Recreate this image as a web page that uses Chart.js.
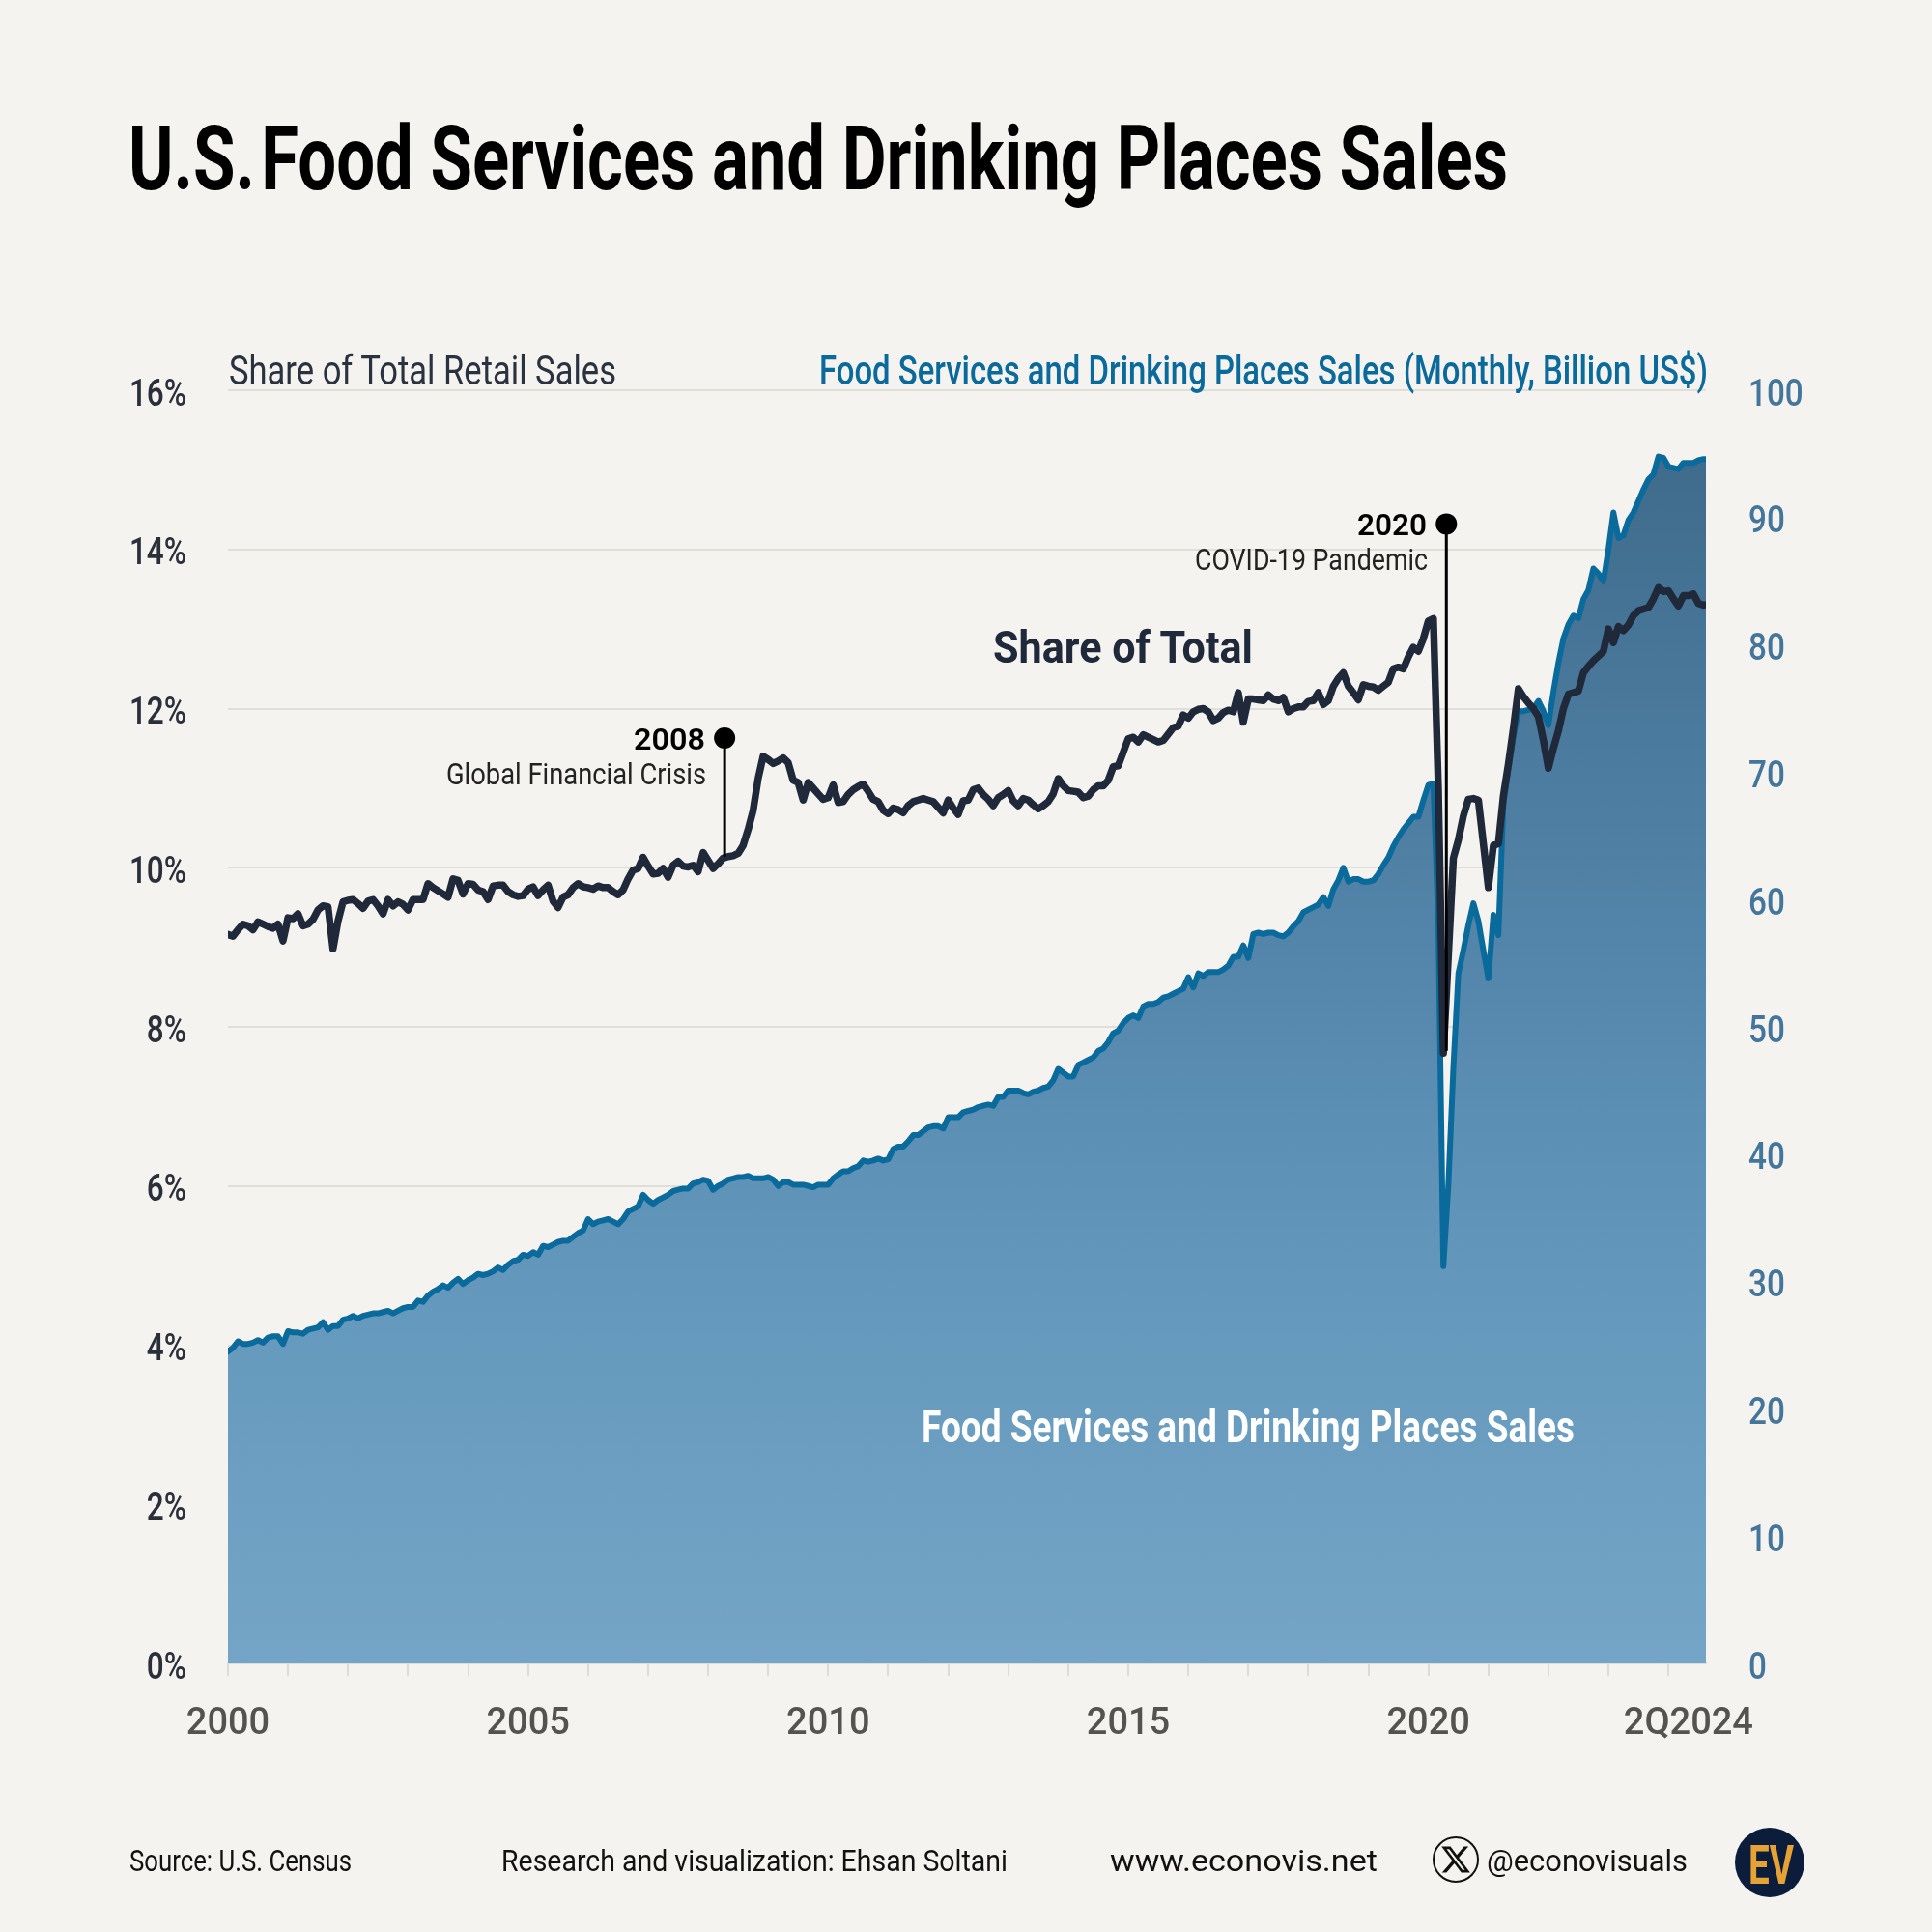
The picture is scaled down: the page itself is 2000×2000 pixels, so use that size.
<!DOCTYPE html>
<html><head><meta charset="utf-8">
<style>
html,body{margin:0;padding:0;background:#f4f3ef;width:2000px;height:2000px;overflow:hidden}
#wrap{position:relative;width:2000px;height:2000px}
canvas{position:absolute;left:0;top:0}
.t{position:absolute;white-space:pre;line-height:0;transform-origin:0 0}
</style>
<script src="https://cdn.jsdelivr.net/npm/chart.js@4"></script>
</head><body><div id="wrap"><canvas id="c" width="2000" height="2000"></canvas></div>
<script>
const salesValues=[
24.5,24.8,25.3,25.1,25.1,25.2,25.4,25.2,25.6,25.7,
25.7,25.1,26.1,26.0,26.0,25.9,26.2,26.3,26.4,26.8,
26.2,26.5,26.5,27.0,27.1,27.3,27.1,27.3,27.4,27.5,
27.5,27.6,27.7,27.5,27.7,27.9,28.0,28.0,28.5,28.4,
28.9,29.2,29.4,29.7,29.5,29.9,30.2,29.8,30.1,30.3,
30.6,30.5,30.6,30.8,31.1,30.9,31.3,31.6,31.7,32.1,
32.0,32.3,32.1,32.8,32.7,32.9,33.1,33.2,33.2,33.5,
33.8,34.0,34.9,34.5,34.7,34.8,34.9,34.7,34.5,34.9,
35.5,35.7,35.9,36.8,36.4,36.1,36.4,36.6,36.8,37.1,
37.2,37.3,37.3,37.7,37.8,38.0,37.9,37.2,37.5,37.7,
38.0,38.1,38.2,38.2,38.3,38.1,38.1,38.1,38.2,38.0,
37.5,37.8,37.8,37.6,37.6,37.6,37.5,37.4,37.6,37.6,
37.6,38.1,38.4,38.65,38.65,38.9,39.05,39.5,39.4,39.5,
39.65,39.5,39.6,40.4,40.6,40.6,41.0,41.5,41.5,41.8,
42.1,42.2,42.2,42.0,42.9,42.9,42.9,43.3,43.4,43.5,
43.7,43.8,43.9,43.8,44.5,44.5,45.0,45.0,45.0,44.8,
44.7,44.9,45.0,45.2,45.3,45.8,46.7,46.4,46.1,46.1,
47.0,47.2,47.4,47.6,48.1,48.3,48.8,49.5,49.7,50.3,
50.7,50.9,50.7,51.6,51.8,51.8,51.95,52.3,52.4,52.6,
52.8,53.0,53.9,53.1,54.2,54.0,54.3,54.3,54.3,54.5,
54.8,55.5,55.5,56.4,55.4,57.3,57.4,57.3,57.4,57.4,
57.2,57.1,57.4,57.9,58.3,59.0,59.2,59.4,59.6,60.2,
59.5,60.8,61.5,62.5,61.4,61.6,61.6,61.4,61.4,61.5,
62.0,62.7,63.3,64.2,64.9,65.5,66.0,66.5,66.5,67.8,
69.0,69.1,58.0,31.2,37.6,46.8,54.2,56.0,58.0,59.7,
58.3,56.0,53.8,58.8,57.2,67.5,70.3,72.8,74.8,74.8,
74.9,75.0,75.6,74.8,73.7,76.3,78.6,80.5,81.6,82.3,
82.1,83.6,84.3,86.0,85.6,85.0,87.5,90.4,88.4,88.6,
89.8,90.4,91.3,92.2,93.0,93.4,94.8,94.7,94.0,93.9,
93.8,94.3,94.3,94.3,94.5,94.6,94.6];
const shareValues=[
9.16,9.14,9.22,9.29,9.27,9.22,9.32,9.29,9.26,9.24,
9.29,9.08,9.37,9.36,9.42,9.27,9.29,9.35,9.47,9.52,
9.51,8.98,9.33,9.57,9.59,9.60,9.55,9.49,9.58,9.60,
9.52,9.42,9.60,9.52,9.57,9.54,9.47,9.60,9.60,9.60,
9.80,9.75,9.71,9.67,9.63,9.86,9.84,9.67,9.80,9.79,
9.72,9.70,9.60,9.77,9.78,9.78,9.70,9.66,9.64,9.65,
9.73,9.76,9.65,9.72,9.78,9.58,9.50,9.63,9.66,9.75,
9.80,9.76,9.75,9.73,9.77,9.75,9.75,9.70,9.66,9.72,
9.86,9.97,9.99,10.13,10.02,9.92,9.93,9.99,9.88,10.03,
10.08,10.02,10.01,10.03,9.95,10.19,10.09,9.99,10.05,10.12,
10.14,10.15,10.18,10.28,10.48,10.72,11.12,11.40,11.36,11.31,
11.34,11.38,11.32,11.10,11.07,10.85,11.07,11.0,10.93,10.86,
10.88,11.04,10.82,10.83,10.92,10.98,11.02,11.05,10.96,10.86,
10.83,10.72,10.68,10.75,10.73,10.69,10.78,10.83,10.85,10.87,
10.85,10.83,10.76,10.69,10.85,10.75,10.67,10.84,10.85,10.98,
11.0,10.92,10.86,10.78,10.88,10.92,10.97,10.84,10.78,10.87,
10.85,10.79,10.74,10.78,10.83,10.93,11.12,11.03,10.97,10.96,
10.95,10.88,10.90,10.98,11.03,11.03,11.10,11.27,11.28,11.45,
11.62,11.64,11.58,11.67,11.64,11.61,11.58,11.60,11.68,11.76,
11.78,11.92,11.88,11.96,11.99,12.0,11.96,11.85,11.88,11.95,
11.98,11.96,12.2,11.83,12.12,12.12,12.11,12.1,12.17,12.12,
12.1,12.14,11.96,12.0,12.02,12.02,12.09,12.1,12.2,12.05,
12.1,12.28,12.38,12.45,12.28,12.2,12.11,12.3,12.28,12.27,
12.23,12.28,12.33,12.5,12.52,12.5,12.65,12.77,12.72,12.88,
13.1,13.13,11.0,7.67,8.9,10.12,10.35,10.65,10.86,10.87,
10.85,10.3,9.75,10.28,10.3,10.9,11.3,11.75,12.25,12.15,
12.07,12.0,11.9,11.6,11.25,11.5,11.72,12.0,12.18,12.2,
12.22,12.45,12.53,12.6,12.66,12.72,13.0,12.83,13.03,12.98,
13.05,13.17,13.23,13.25,13.27,13.38,13.52,13.47,13.48,13.38,
13.29,13.42,13.42,13.44,13.32,13.3,13.31];
const yearTickMonths=[0,12,24,36,48,60,72,84,96,108,120,132,144,156,168,180,192,204,216,228,240,252,264,276,288];
const labelledTicks={0:'2000',60:'2005',120:'2010',180:'2015',240:'2020',292:'2Q2024'};
const shareTicks=[0,2,4,6,8,10,12,14,16];
const salesTicks=[0,10,20,30,40,50,60,70,80,90,100];
const crisisStemX=[99.3,99.3];
const crisisStemY=[11.63,10.14];
const covidStemX=[243.6,243.6];
const covidStemY=[14.32,7.7];

const pts=(xs,ys)=>ys.map((y,i)=>({x:xs?xs[i]:i,y}));
const stem=(xs,ys)=>({type:'line',yAxisID:'y',data:pts(xs,ys),order:0,borderColor:'#000',borderWidth:3,
  pointRadius:c=>c.dataIndex===0?11:0,pointBackgroundColor:'#000',pointBorderWidth:0,tension:0,clip:false});

// Condense the y-axis tick labels and sit them just below their gridlines.
const tickStyle={id:'tickStyle',beforeDraw(chart){
  if(chart.$styled)return;chart.$styled=true;
  [['y',193,0.83],['y2',1810,0.875]].forEach(([id,ax,sx])=>{
    const s=chart.scales[id],ctx=chart.ctx;
    s.getLabelItems(chart.chartArea).forEach(it=>{it.options.translation[1]+=6;});
    const orig=s.drawLabels;
    s.drawLabels=function(a){ctx.save();ctx.translate(ax,0);ctx.scale(sx,1);ctx.translate(-ax,0);orig.call(this,a);ctx.restore();};
  });
}};

new Chart(document.getElementById('c'),{
  type:'line',
  plugins:[tickStyle],
  data:{datasets:[
    {yAxisID:'y2',data:pts(null,salesValues),order:2,borderColor:'#0a6a9b',borderWidth:6,pointRadius:0,tension:0,
     borderJoinStyle:'round',borderCapStyle:'round',fill:'origin',
     backgroundColor:c=>{const a=c.chart.chartArea;if(!a)return '#6198bb';
       const g=c.chart.ctx.createLinearGradient(0,a.top,0,a.bottom);
       g.addColorStop(0,'#3c6888');g.addColorStop(0.45,'#5486ab');g.addColorStop(0.7,'#6398bc');g.addColorStop(1,'#74a5c6');return g;}},
    {yAxisID:'y',data:pts(null,shareValues),order:1,borderColor:'#20293a',borderWidth:7.5,pointRadius:0,tension:0,
     borderJoinStyle:'round',borderCapStyle:'round',fill:false},
    stem(crisisStemX,crisisStemY),
    stem(covidStemX,covidStemY)
  ]},
  options:{
    responsive:false,animation:false,devicePixelRatio:1,
    layout:{padding:{top:404,left:0,right:0,bottom:0}},
    plugins:{legend:{display:false},tooltip:{enabled:false}},
    scales:{
      x:{type:'linear',min:0,max:295.5,
        afterBuildTicks:s=>{s.ticks=yearTickMonths.concat([292]).map(v=>({value:v}));},
        afterFit:s=>{s.height=278;},
        border:{display:true,color:'#d9dee0',width:2},
        grid:{drawOnChartArea:false,drawTicks:true,tickLength:13,lineWidth:2,
          tickColor:c=>(c.tick&&c.tick.value===292)?'rgba(0,0,0,0)':'#dcdbd6'},
        ticks:{autoSkip:false,maxRotation:0,padding:28,color:'#555350',
          font:{family:'Roboto',size:38,weight:'500'},
          callback:v=>labelledTicks[v]||''}},
      y:{position:'left',min:0,max:16,
        afterBuildTicks:s=>{s.ticks=shareTicks.map(v=>({value:v}));},
        afterFit:s=>{s.width=236;},
        border:{display:false},
        grid:{color:'#dfded9',lineWidth:2,drawTicks:false},
        ticks:{padding:43,color:'#2a2f3a',font:{family:'Roboto',size:38,weight:'500'},callback:v=>v+'%'}},
      y2:{position:'right',min:0,max:100,
        afterBuildTicks:s=>{s.ticks=salesTicks.map(v=>({value:v}));},
        afterFit:s=>{s.width=234;},
        border:{display:false},
        grid:{drawOnChartArea:false,drawTicks:false},
        ticks:{padding:44,color:'#44759b',font:{family:'Roboto',size:38,weight:'500'},callback:v=>''+v}}
    }
  }
});

const wrap=document.getElementById('wrap');
const mc=document.createElement('canvas').getContext('2d');
function put(text,x,base,w,size,weight,color,html){
  const font=weight+' '+size+'px Roboto,sans-serif';
  mc.font=font;const m=mc.measureText(text);
  const A=m.fontBoundingBoxAscent,D=m.fontBoundingBoxDescent;
  const e=document.createElement('div');e.className='t';
  if(html)e.innerHTML=html;else e.textContent=text;
  e.style.font=font;e.style.lineHeight='0';e.style.color=color;
  e.style.left=x+'px';e.style.top=(base-(A-D)/2)+'px';
  wrap.appendChild(e);
  const nat=e.getBoundingClientRect().width;
  e.style.transform='scaleX('+(w/nat)+')';
  return e;
}
put('U.S. Food Services and Drinking Places Sales',133,196,1428,93,700,'#000',
 'U.S.<span style="letter-spacing:-0.16em"> </span>Food Services and Drinking Places Sales');
put('Share of Total Retail Sales',237,398,401,42,400,'#2a3240');
put('Food Services and Drinking Places Sales (Monthly, Billion US$)',848,398,920,42,500,'#0a6a9b');
put('2020',1405,554,72,32,600,'#000');
put('COVID-19 Pandemic',1237,590,241,31,400,'#222');
put('2008',656,776,74,32,600,'#000');
put('Global Financial Crisis',462,812,269,31,400,'#222');
put('Share of Total',1028,686,269,47,700,'#20293a');
put('Food Services and Drinking Places Sales',954,1493,676,46,700,'#fff');
put('Source: U.S. Census',134,1937,230,32,400,'#111');
put('Research and visualization: Ehsan Soltani',519,1937,524,32,400,'#111');
put('www.econovis.net',1149,1937,277,32,400,'#111');
put('@econovisuals',1539,1937,208,32,400,'#111');
const s=document.createElementNS('http://www.w3.org/2000/svg','svg');
s.setAttribute('width','2000');s.setAttribute('height','2000');
s.style.cssText='position:absolute;left:0;top:0;pointer-events:none';
s.innerHTML='<circle cx="1507" cy="1925" r="23" fill="none" stroke="#111" stroke-width="2"/>'+
 '<g transform="translate(1490.5,1908.5) scale(1.375)"><path fill="#111" d="M18.244 2.25h3.308l-7.227 8.26 8.502 11.24H16.17l-5.214-6.817L4.99 21.75H1.68l7.73-8.835L1.254 2.25H8.08l4.713 6.231zm-1.161 17.52h1.833L7.084 4.126H5.117z"/></g>'+
 '<circle cx="1832" cy="1928" r="36" fill="#0b1d3a"/>';
wrap.appendChild(s);
put('EV',1810,1950,47,56,700,'#e5a336');
</script></body></html>
